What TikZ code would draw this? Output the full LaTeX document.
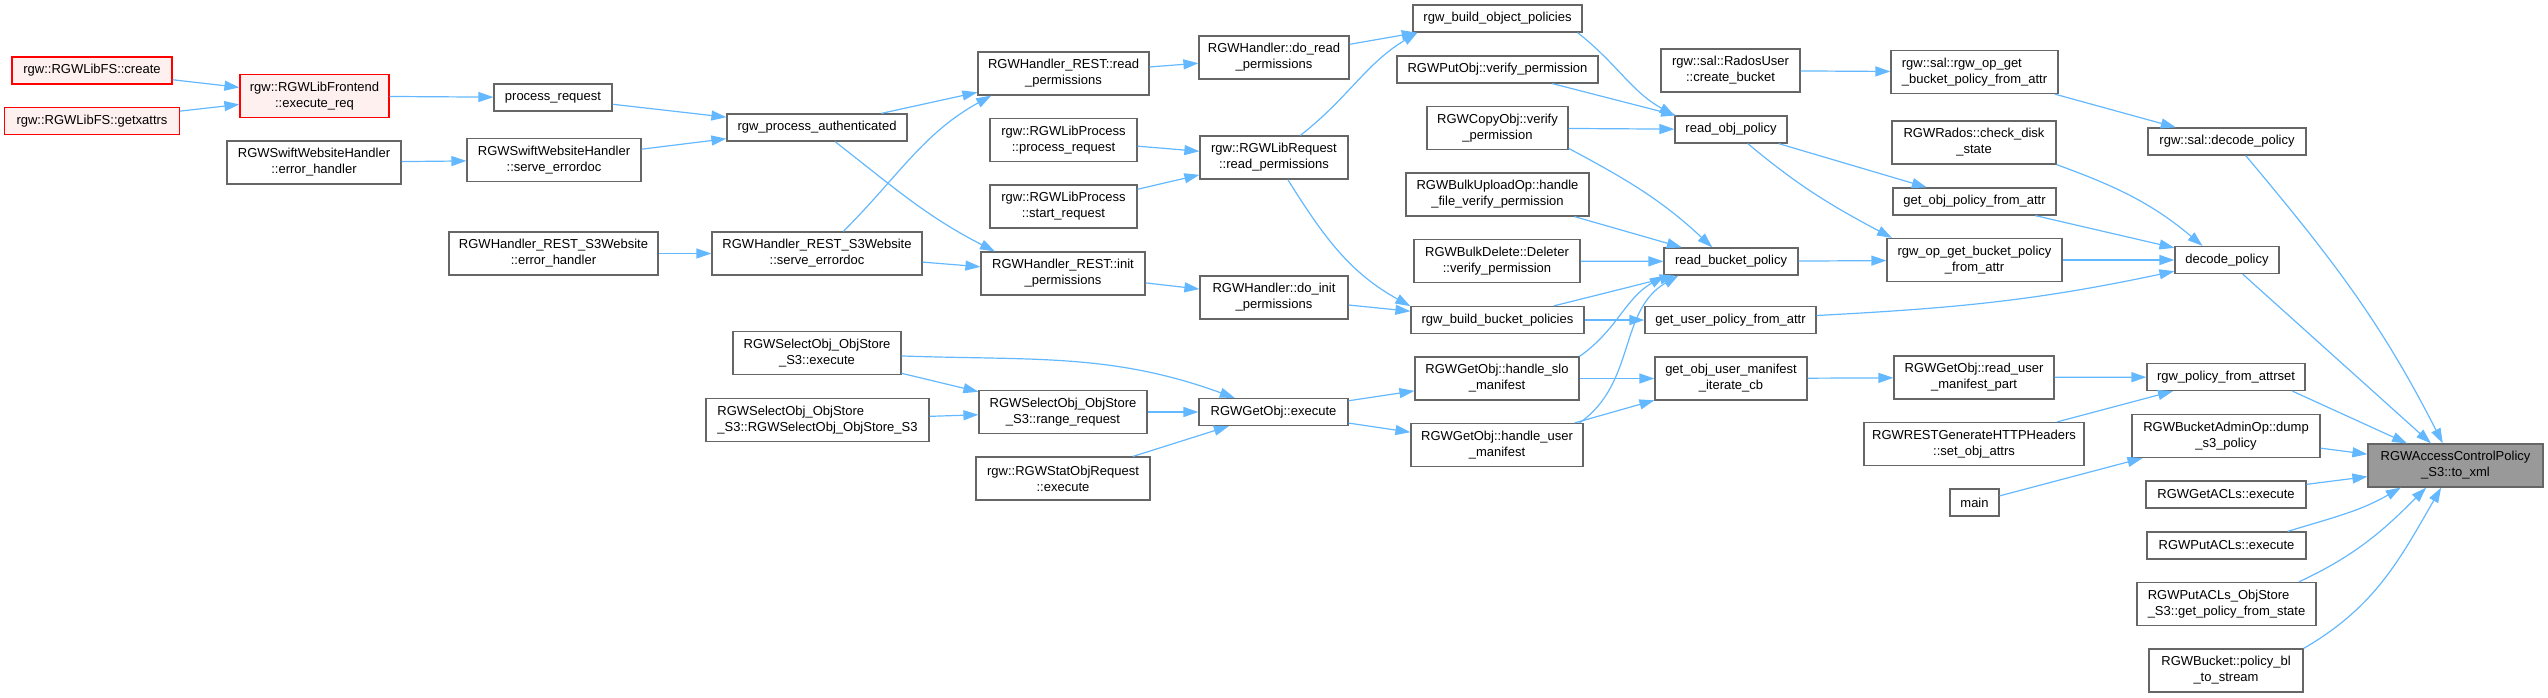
\documentclass[tikz,border=0pt]{standalone}
\usepackage{fontspec}
\setmainfont{Liberation Sans}
\usetikzlibrary{arrows.meta}
\definecolor{edgeblue}{HTML}{63B8FF}
\definecolor{boxgray}{HTML}{666666}
\definecolor{rootgray}{HTML}{999999}
\definecolor{hotred}{HTML}{FF0000}
\definecolor{hotfill}{HTML}{FFF0F0}

\begin{document}
\begin{tikzpicture}[x=1pt,y=-1pt,font=\fontsize{13}{16}\selectfont,
  >={Triangle[length=15pt,width=10pt]},
  fn/.style={draw=boxgray,line width=1.2pt,fill=white,inner sep=2pt,
    minimum height=27pt,align=center},
  dbl/.style={minimum height=43pt},
  lft/.style={align=left},
  hot/.style={fn,draw=hotred,fill=hotfill},
  root/.style={fn,fill=rootgray},
  call/.style={->,draw=edgeblue,line width=1.2pt}]
  \useasboundingbox (0,0) rectangle (2548,697);

  \node[hot,minimum width=160] (fscreate) at (92,70.5) {rgw::RGWLibFS::create};
  \node[hot,minimum width=175] (fsgetx) at (92,121) {rgw::RGWLibFS::getxattrs};
  \node[hot,dbl,minimum width=149] (execreq) at (314.5,96) {rgw::RGWLibFrontend\\::execute\_req};
  \node[fn,dbl,minimum width=174] (swerr) at (314,162.5) {RGWSwiftWebsiteHandler\\::error\_handler};

  \node[fn,minimum width=118] (procreq) at (553,97.5) {process\_request};
  \node[fn,dbl,minimum width=174] (swserve) at (554,160) {RGWSwiftWebsiteHandler\\::serve\_errordoc};
  \node[fn,dbl,minimum width=209] (s3err) at (553.5,253.5) {RGWHandler\_REST\_S3Website\\::error\_handler};

  \node[fn,minimum width=180] (procauth) at (817,127.5) {rgw\_process\_authenticated};
  \node[fn,dbl,minimum width=210] (s3serve) at (817,253.5) {RGWHandler\_REST\_S3Website\\::serve\_errordoc};
  \node[fn,dbl,minimum width=168] (selexec) at (817,353) {RGWSelectObj\_ObjStore\\\_S3::execute};
  \node[fn,dbl,lft,minimum width=223] (selctor) at (817.5,420) {RGWSelectObj\_ObjStore\\\_S3::RGWSelectObj\_ObjStore\_S3};

  \node[fn,dbl,minimum width=171] (rdperm) at (1063.5,73.5) {RGWHandler\_REST::read\\\_permissions};
  \node[fn,dbl,minimum width=147] (lpproc) at (1063.5,140) {rgw::RGWLibProcess\\::process\_request};
  \node[fn,dbl,minimum width=147] (lpstart) at (1063.5,206.5) {rgw::RGWLibProcess\\::start\_request};
  \node[fn,dbl,minimum width=164] (initperm) at (1063,273.5) {RGWHandler\_REST::init\\\_permissions};
  \node[fn,dbl,minimum width=168] (rngreq) at (1063,412) {RGWSelectObj\_ObjStore\\\_S3::range\_request};
  \node[fn,dbl,minimum width=174] (statexec) at (1063,478.5) {rgw::RGWStatObjRequest\\::execute};

  \node[fn,dbl,minimum width=150] (doread) at (1274,57.5) {RGWHandler::do\_read\\\_permissions};
  \node[fn,dbl,minimum width=148] (lreqread) at (1274,157.5) {rgw::RGWLibRequest\\::read\_permissions};
  \node[fn,dbl,minimum width=148] (doinit) at (1274,297.5) {RGWHandler::do\_init\\\_permissions};
  \node[fn,minimum width=149] (getexec) at (1273.5,412) {RGWGetObj::execute};

  \node[fn,minimum width=169] (bop) at (1497.5,18.5) {rgw\_build\_object\_policies};
  \node[fn,minimum width=201] (putver) at (1497.5,69.5) {RGWPutObj::verify\_permission};
  \node[fn,dbl,minimum width=141] (copyver) at (1497.5,128) {RGWCopyObj::verify\\\_permission};
  \node[fn,dbl,minimum width=183] (bulkup) at (1497.5,194.5) {RGWBulkUploadOp::handle\\\_file\_verify\_permission};
  \node[fn,dbl,minimum width=166] (bulkdel) at (1497,261) {RGWBulkDelete::Deleter\\::verify\_permission};
  \node[fn,minimum width=173] (bbp) at (1497.5,320) {rgw\_build\_bucket\_policies};
  \node[fn,dbl,minimum width=164] (hslo) at (1497,378.5) {RGWGetObj::handle\_slo\\\_manifest};
  \node[fn,dbl,minimum width=172] (husr) at (1497,445) {RGWGetObj::handle\_user\\\_manifest};

  \node[fn,dbl,minimum width=139] (crbkt) at (1730.5,70.5) {rgw::sal::RadosUser\\::create\_bucket};
  \node[fn,minimum width=112] (rop) at (1731,129.5) {read\_obj\_policy};
  \node[fn,minimum width=134] (rbp) at (1731,261.5) {read\_bucket\_policy};
  \node[fn,minimum width=171] (gupa) at (1730.5,320) {get\_user\_policy\_from\_attr};
  \node[fn,dbl,minimum width=152] (iter) at (1731,378.5) {get\_obj\_user\_manifest\\\_iterate\_cb};

  \node[fn,dbl,lft,minimum width=167] (salgbp) at (1974.5,72) {rgw::sal::rgw\_op\_get\\\_bucket\_policy\_from\_attr};
  \node[fn,dbl,minimum width=164] (chkdisk) at (1974,142.5) {RGWRados::check\_disk\\\_state};
  \node[fn,minimum width=163] (gopa) at (1974.5,201.5) {get\_obj\_policy\_from\_attr};
  \node[fn,dbl,minimum width=175] (rogb) at (1974.5,260) {rgw\_op\_get\_bucket\_policy\\\_from\_attr};
  \node[fn,dbl,minimum width=160] (rdman) at (1974,377.5) {RGWGetObj::read\_user\\\_manifest\_part};
  \node[fn,dbl,minimum width=220] (setattrs) at (1974,444) {RGWRESTGenerateHTTPHeaders\\::set\_obj\_attrs};
  \node[fn,minimum width=49] (mainfn) at (1974.5,502.5) {main};

  \node[fn,minimum width=158] (saldec) at (2227,141.5) {rgw::sal::decode\_policy};
  \node[fn,minimum width=104] (decpol) at (2227,260) {decode\_policy};
  \node[fn,minimum width=158] (rpfa) at (2226,377) {rgw\_policy\_from\_attrset};
  \node[fn,dbl,minimum width=188] (dumps3) at (2226,436) {RGWBucketAdminOp::dump\\\_s3\_policy};
  \node[fn,minimum width=160] (getacl) at (2226,494.5) {RGWGetACLs::execute};
  \node[fn,minimum width=159] (putacl) at (2226.5,545.5) {RGWPutACLs::execute};
  \node[fn,dbl,lft,minimum width=179] (putaclos) at (2226.5,604) {RGWPutACLs\_ObjStore\\\_S3::get\_policy\_from\_state};
  \node[fn,dbl,minimum width=154] (bktbl) at (2226,670.5) {RGWBucket::policy\_bl\\\_to\_stream};

  \node[root,dbl,minimum width=175] (toxml) at (2455.5,465.5) {RGWAccessControlPolicy\\\_S3::to\_xml};

  \foreach \a/\b in {fscreate/execreq,fsgetx/execreq,execreq/procreq,
      procreq/procauth,swerr/swserve,swserve/procauth,s3err/s3serve,
      procauth/rdperm,s3serve/initperm,rdperm/doread,lpproc/lreqread,
      lpstart/lreqread,initperm/doinit,selexec/rngreq,selctor/rngreq,
      rngreq/getexec,statexec/getexec,doread/bop,doinit/bbp,getexec/hslo,
      getexec/husr,putver/rop,copyver/rop,bulkup/rbp,bulkdel/rbp,bbp/rbp,
      bbp/gupa,hslo/iter,husr/iter,crbkt/salgbp,rop/gopa,rbp/rogb,
      iter/rdman,salgbp/saldec,gopa/decpol,rogb/decpol,rdman/rpfa,
      setattrs/rpfa,mainfn/dumps3,decpol/toxml,dumps3/toxml,getacl/toxml} {
    \draw[call] (\a) -- (\b);
  }

  \draw[call] (procauth) to[out=-38,in=153] (initperm.162);
  \draw[call] (s3serve.40) to[out=45,in=209] (rdperm.197);
  \draw[call] (selexec) to[out=-2,in=160] (getexec);
  \draw[call] (lreqread.40) to[out=38,in=211] (bop.190);
  \draw[call] (lreqread) to[out=-58,in=151] (bbp.171);
  \draw[call] (bop.-10) to[out=-38,in=151] (rop.166);
  \draw[call] (copyver.-16) to[out=-28,in=137] (rbp.143);
  \draw[call] (hslo.15) to[out=35,in=210] (rbp.192);
  \draw[call] (husr.15) to[out=35,in=210] (rbp.195);
  \draw[call] (rop.-40) to[out=-40,in=152] (rogb.165);
  \draw[call] (gupa) to[out=3,in=192] (decpol);
  \draw[call] (chkdisk.south east) to[out=-20,in=140] (decpol.150);
  \draw[call] (saldec.-37) to[out=-50,in=117] (toxml.120);
  \draw[call] (rpfa.-12) -- (toxml);
  \draw[call] (putacl.13) to[out=17,in=210] (toxml.202);
  \draw[call] (putaclos.17) to[out=25,in=225] (toxml.217);
  \draw[call] (bktbl.north east) to[out=30,in=240] (toxml.237);
\end{tikzpicture}
\end{document}
